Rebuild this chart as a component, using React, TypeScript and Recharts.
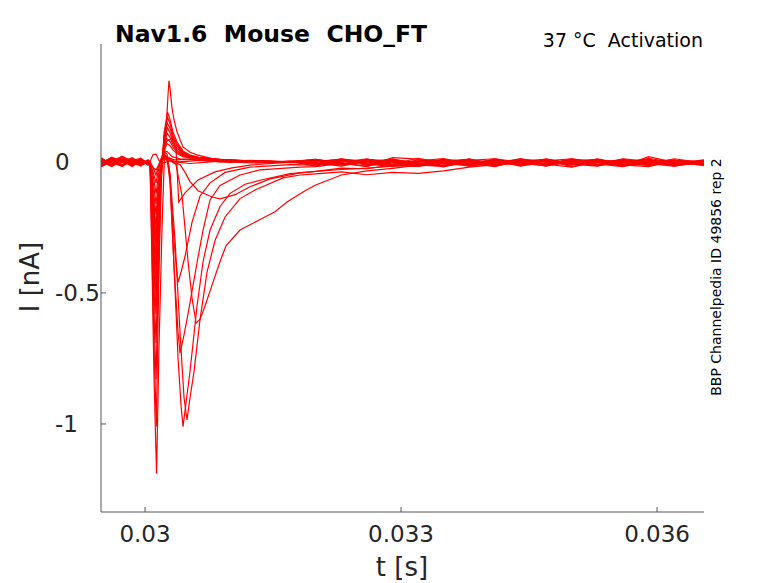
import React from 'react';
import { LineChart, Line, XAxis, YAxis } from 'recharts';

// time grids (s) shared by the quiet pre-step and late tail parts of every sweep
const preT = [0.029484, 0.02961, 0.02973, 0.02985, 0.02995, 0.030035];
const tailT = [0.032, 0.0323, 0.0326, 0.0329, 0.0332, 0.0335, 0.0338, 0.0341, 0.0344, 0.0347, 0.035, 0.0353, 0.0356, 0.0359, 0.0362, 0.03655];

const xTicks = [0.03, 0.033, 0.036];
const yTicks = [-1, -0.5, 0];

// sweeps: pre (nA on preT), act ([t s, I nA]), tail (nA on tailT)
const z1Pre = [-0.008, 0.012, -0.004, 0.006, -0.01, -0.004];
const z1Act = [[0.030059, 0.002], [0.030094, 0.028], [0.030129, 0.03], [0.030164, 0.005], [0.030211, -0.004], [0.030293, 0.004], [0.03041, 0.0], [0.030645, 0.006], [0.030996, -0.002], [0.031348, 0.004], [0.031699, -0.003]];
const z1Tail = [0.006, -0.012, 0.008, -0.004, -0.016, 0.004, -0.009, 0.01, -0.006, -0.014, 0.002, -0.011, 0.009, -0.004, -0.013, -0.002];

const z2Pre = [0.004, -0.012, 0.008, -0.016, 0.002, -0.008];
const z2Act = [[0.030059, -0.003], [0.030094, -0.022], [0.030129, -0.03], [0.030164, -0.01], [0.030199, 0.02], [0.030234, 0.025], [0.03027, 0.01], [0.030352, 0.0], [0.030527, -0.006], [0.030879, 0.003], [0.03123, -0.004], [0.031699, 0.002]];
const z2Tail = [-0.016, 0.004, -0.01, 0.011, -0.006, -0.019, 0.006, -0.004, 0.012, -0.009, -0.02, 0.004, -0.012, 0.006, -0.009, 0.004];

const z3Pre = [-0.016, 0.004, 0.02, -0.006, 0.008, -0.012];
const z3Act = [[0.030059, 0.0], [0.030105, -0.03], [0.030129, -0.05], [0.030164, -0.01], [0.030211, 0.03], [0.030258, 0.02], [0.03034, 0.008], [0.030527, 0.01], [0.030879, 0.0], [0.03123, 0.006], [0.031699, -0.002]];
const z3Tail = [0.01, -0.004, -0.018, 0.016, 0.011, -0.008, 0.002, -0.016, 0.004, 0.01, -0.006, -0.014, 0.0, 0.011, -0.01, -0.006];

const z4Pre = [0.002, -0.018, 0.006, 0.012, -0.014, 0.0];
const z4Act = [[0.030059, -0.004], [0.030105, -0.05], [0.030129, -0.08], [0.030164, -0.02], [0.030211, 0.035], [0.030258, 0.04], [0.030316, 0.02], [0.03041, 0.012], [0.030645, 0.008], [0.030996, 0.003], [0.031465, -0.003], [0.031816, 0.002]];
const z4Tail = [-0.008, 0.011, 0.002, -0.015, 0.004, 0.013, -0.01, 0.006, -0.013, 0.004, 0.012, -0.008, -0.018, 0.002, 0.008, -0.012];

const sPre = [-0.012, 0.008, -0.01, 0.004, 0.014, -0.006];
const sAct = [[0.030059, 0.0], [0.030105, -0.07], [0.030129, -0.12], [0.030164, -0.04], [0.030211, 0.025], [0.030258, 0.02], [0.030352, -0.005], [0.03041, -0.01], [0.030469, -0.04], [0.030527, -0.075], [0.030621, -0.11], [0.030785, -0.134], [0.030879, -0.141], [0.031055, -0.125], [0.03123, -0.095], [0.031465, -0.065], [0.031816, -0.042]];
const sTail = [-0.036, -0.029, -0.024, -0.016, -0.014, -0.006, -0.011, -0.002, -0.012, 0.004, -0.008, 0.006, -0.014, -0.002, 0.004, -0.009];

const m6Pre = [0.008, -0.006, 0.016, -0.012, -0.004, 0.006];
const m6Act = [[0.030059, 0.0], [0.030105, -0.1], [0.030129, -0.16], [0.030164, -0.06], [0.030211, 0.02], [0.03027, 0.01], [0.030363, -0.01], [0.030434, -0.13], [0.030504, -0.38], [0.030551, -0.52], [0.030598, -0.615], [0.030645, -0.6], [0.030703, -0.55], [0.030785, -0.47], [0.030879, -0.38], [0.030949, -0.32], [0.031113, -0.26], [0.031348, -0.22], [0.031523, -0.19], [0.031664, -0.153], [0.031875, -0.11]];
const m6Tail = [-0.088, -0.05, -0.034, -0.025, -0.012, -0.016, -0.004, 0.003, -0.012, 0.005, -0.009, -0.016, 0.006, -0.01, 0.001, -0.014];

const m5Pre = [-0.004, 0.016, -0.014, 0.002, -0.008, 0.004];
const m5Act = [[0.030059, 0.0], [0.030105, -0.13], [0.030129, -0.2], [0.030164, -0.07], [0.030211, 0.02], [0.03027, 0.0], [0.030293, -0.05], [0.030352, -0.3], [0.03041, -0.65], [0.030457, -0.9], [0.030492, -0.985], [0.030527, -0.9], [0.030574, -0.8], [0.030645, -0.6], [0.030727, -0.42], [0.03082, -0.3], [0.030938, -0.21], [0.031113, -0.14], [0.031289, -0.107], [0.031617, -0.061], [0.031816, -0.05]];
const m5Tail = [-0.046, -0.038, -0.049, -0.04, -0.044, -0.034, -0.02, -0.01, 0.004, -0.009, 0.008, -0.012, -0.004, 0.01, -0.016, 0.0];

const m4Pre = [0.012, -0.01, 0.004, -0.018, 0.01, -0.002];
const m4Act = [[0.030059, 0.0], [0.030105, -0.16], [0.030129, -0.25], [0.030164, -0.09], [0.030211, 0.02], [0.030258, 0.01], [0.030293, -0.06], [0.03034, -0.4], [0.030387, -0.75], [0.030422, -0.93], [0.030445, -1.01], [0.03048, -0.92], [0.030527, -0.8], [0.030609, -0.55], [0.03068, -0.38], [0.030762, -0.26], [0.030879, -0.17], [0.030996, -0.12], [0.031172, -0.085], [0.031348, -0.07], [0.031699, -0.045]];
const m4Tail = [-0.036, -0.024, -0.026, -0.012, -0.017, -0.004, -0.016, 0.002, -0.012, 0.006, -0.007, 0.003, -0.011, -0.018, 0.004, -0.006];

const m3Pre = [-0.018, 0.0, 0.01, -0.008, 0.004, -0.01];
const m3Act = [[0.030059, 0.0], [0.030105, -0.19], [0.030129, -0.29], [0.030164, -0.1], [0.030211, 0.03], [0.030258, 0.02], [0.030293, -0.08], [0.03034, -0.4], [0.030387, -0.65], [0.03041, -0.73], [0.030457, -0.66], [0.030504, -0.58], [0.030609, -0.385], [0.03068, -0.26], [0.030762, -0.145], [0.030879, -0.09], [0.031113, -0.05], [0.031348, -0.03], [0.031816, -0.02]];
const m3Tail = [-0.018, -0.006, -0.016, 0.0, -0.014, 0.004, -0.009, 0.008, -0.014, -0.004, 0.007, -0.012, 0.002, -0.007, -0.016, 0.004];

const m2Pre = [0.006, -0.014, -0.002, 0.016, -0.006, 0.002];
const m2Act = [[0.030059, 0.0], [0.030105, -0.22], [0.030129, -0.33], [0.030164, -0.12], [0.030211, 0.04], [0.030258, 0.03], [0.030293, -0.05], [0.030316, -0.19], [0.030352, -0.35], [0.030387, -0.46], [0.030422, -0.42], [0.030469, -0.36], [0.030551, -0.23], [0.030645, -0.13], [0.030762, -0.08], [0.030938, -0.04], [0.03123, -0.02], [0.031699, -0.01]];
const m2Tail = [-0.012, 0.005, -0.008, -0.018, 0.002, -0.006, 0.012, -0.01, 0.0, -0.016, 0.004, 0.01, -0.007, -0.012, 0.006, -0.004];

const m1Pre = [-0.006, 0.018, 0.002, -0.012, 0.008, -0.008];
const m1Act = [[0.030059, 0.0], [0.030105, -0.25], [0.030129, -0.37], [0.030164, -0.13], [0.030211, 0.05], [0.030258, 0.08], [0.030316, 0.09], [0.030363, 0.05], [0.030395, -0.153], [0.030469, -0.118], [0.030621, -0.069], [0.03082, -0.038], [0.03102, -0.023], [0.031254, -0.011], [0.031582, -0.004]];
const m1Tail = [0.004, -0.011, 0.009, 0.0, -0.014, 0.006, -0.005, -0.018, 0.008, 0.002, -0.01, 0.012, -0.008, 0.0, -0.006, 0.008];

const f1Pre = [0.01, -0.004, -0.016, 0.008, -0.002, 0.004];
const f1Act = [[0.030059, 0.0], [0.030082, -0.15], [0.030105, -0.3], [0.030129, -0.42], [0.030158, -0.2], [0.030188, -0.03], [0.030223, 0.045], [0.030258, 0.07], [0.030293, 0.062], [0.030328, 0.045], [0.030375, 0.032], [0.030445, 0.02], [0.030527, 0.014], [0.030645, 0.01], [0.030879, 0.006], [0.031172, 0.002], [0.031465, 0.004], [0.031758, -0.002]];
const f1Tail = [-0.006, 0.008, -0.012, 0.004, -0.002, 0.01, -0.016, -0.004, 0.006, -0.01, 0.0, -0.014, 0.01, -0.004, 0.006, -0.01];

const f2Pre = [-0.014, 0.006, 0.012, -0.01, 0.0, -0.006];
const f2Act = [[0.030059, 0.0], [0.030082, -0.17], [0.030105, -0.33], [0.030129, -0.47], [0.030158, -0.23], [0.030188, -0.04], [0.030223, 0.055], [0.030252, 0.09], [0.030293, 0.078], [0.030328, 0.056], [0.030375, 0.038], [0.030445, 0.024], [0.030527, 0.016], [0.030645, 0.012], [0.030879, 0.007], [0.031172, 0.003], [0.031465, -0.002], [0.031758, 0.003]];
const f2Tail = [0.008, -0.002, 0.012, -0.012, -0.006, 0.004, 0.01, -0.012, -0.004, 0.008, -0.018, -0.002, 0.004, -0.01, 0.012, -0.004];

const f3Pre = [0.0, -0.008, 0.022, 0.002, -0.012, 0.006];
const f3Act = [[0.030059, 0.0], [0.030082, -0.18], [0.030105, -0.36], [0.030129, -0.52], [0.030158, -0.26], [0.030188, -0.04], [0.030223, 0.066], [0.030258, 0.11], [0.030293, 0.094], [0.030328, 0.066], [0.030375, 0.044], [0.030445, 0.027], [0.030527, 0.018], [0.030645, 0.013], [0.030879, 0.008], [0.031172, 0.004], [0.031465, 0.001], [0.031758, -0.003]];
const f3Tail = [-0.004, -0.016, 0.002, 0.01, -0.008, -0.014, 0.004, 0.002, -0.01, 0.012, -0.006, -0.002, -0.016, 0.02, -0.002, 0.002];

const f4Pre = [0.006, 0.002, -0.012, 0.014, -0.008, -0.002];
const f4Act = [[0.030059, 0.0], [0.030082, -0.2], [0.030105, -0.41], [0.030129, -0.58], [0.030158, -0.29], [0.030188, -0.05], [0.030223, 0.078], [0.030264, 0.13], [0.030293, 0.11], [0.030328, 0.078], [0.030375, 0.052], [0.030445, 0.03], [0.030527, 0.02], [0.030645, 0.014], [0.030879, 0.009], [0.031172, 0.003], [0.031465, 0.002], [0.031758, 0.0]];
const f4Tail = [0.002, 0.01, -0.006, -0.012, 0.008, 0.0, -0.012, 0.012, -0.002, -0.008, 0.01, -0.004, 0.006, -0.014, 0.002, -0.008];

const f5Pre = [-0.01, 0.014, 0.0, -0.004, 0.012, -0.012];
const f5Act = [[0.030059, 0.0], [0.030082, -0.24], [0.030105, -0.48], [0.030129, -0.69], [0.030158, -0.35], [0.030188, -0.06], [0.030223, 0.09], [0.030258, 0.15], [0.030293, 0.128], [0.030328, 0.09], [0.030375, 0.06], [0.030445, 0.034], [0.030527, 0.022], [0.030645, 0.015], [0.030879, 0.008], [0.031172, 0.005], [0.031465, -0.001], [0.031758, 0.002]];
const f5Tail = [-0.01, 0.006, 0.004, -0.008, 0.014, -0.004, 0.008, -0.008, 0.012, -0.002, -0.012, 0.008, -0.002, 0.004, -0.012, 0.006];

const f6Pre = [0.016, -0.008, 0.006, -0.002, -0.016, 0.008];
const f6Act = [[0.030059, 0.0], [0.030082, -0.29], [0.030105, -0.58], [0.030129, -0.83], [0.030158, -0.42], [0.030188, -0.07], [0.030223, 0.1], [0.030264, 0.17], [0.030293, 0.145], [0.030328, 0.1], [0.030375, 0.068], [0.030445, 0.038], [0.030527, 0.024], [0.030645, 0.016], [0.030879, 0.01], [0.031172, 0.004], [0.031465, 0.002], [0.031758, -0.002]];
const f6Tail = [0.006, -0.008, 0.01, 0.002, -0.01, 0.008, -0.002, 0.006, -0.016, 0.004, 0.0, 0.006, -0.012, 0.014, -0.004, -0.01];

const f7Pre = [-0.002, 0.01, -0.018, 0.008, 0.004, -0.004];
const f7Act = [[0.030059, 0.0], [0.030082, -0.35], [0.030105, -0.7], [0.030132, -1.01], [0.030158, -0.5], [0.030188, -0.09], [0.030223, 0.11], [0.030264, 0.19], [0.030293, 0.162], [0.030328, 0.113], [0.030375, 0.076], [0.030445, 0.042], [0.030527, 0.026], [0.030645, 0.017], [0.030879, 0.01], [0.031172, 0.005], [0.031465, 0.0], [0.031758, 0.003]];
const f7Tail = [-0.002, 0.012, -0.004, 0.006, -0.012, 0.01, 0.0, -0.006, 0.008, -0.012, 0.012, 0.0, 0.008, -0.008, 0.004, 0.002];

const f8Pre = [0.004, -0.016, 0.008, 0.01, -0.004, 0.002];
const f8Act = [[0.030059, 0.0], [0.030082, -0.4], [0.030105, -0.82], [0.030135, -1.19], [0.030164, -0.7], [0.030199, -0.25], [0.030223, -0.02], [0.030246, 0.12], [0.03027, 0.26], [0.030281, 0.31], [0.030293, 0.28], [0.030316, 0.206], [0.03034, 0.16], [0.030375, 0.115], [0.03041, 0.085], [0.030445, 0.057], [0.030527, 0.037], [0.030609, 0.027], [0.030844, 0.008], [0.031172, 0.004], [0.031465, 0.0], [0.031758, 0.003]];
const f8Tail = [0.01, -0.006, 0.0, 0.008, -0.004, -0.012, 0.006, 0.012, -0.008, 0.006, -0.002, -0.01, 0.012, 0.002, -0.008, 0.004];

const sweeps = [
  [z1Pre, z1Act, z1Tail], [z2Pre, z2Act, z2Tail], [z3Pre, z3Act, z3Tail], [z4Pre, z4Act, z4Tail],
  [sPre, sAct, sTail], [m6Pre, m6Act, m6Tail], [m5Pre, m5Act, m5Tail], [m4Pre, m4Act, m4Tail],
  [m3Pre, m3Act, m3Tail], [m2Pre, m2Act, m2Tail], [m1Pre, m1Act, m1Tail],
  [f1Pre, f1Act, f1Tail], [f2Pre, f2Act, f2Tail], [f3Pre, f3Act, f3Tail], [f4Pre, f4Act, f4Tail],
  [f5Pre, f5Act, f5Tail], [f6Pre, f6Act, f6Tail], [f7Pre, f7Act, f7Tail], [f8Pre, f8Act, f8Tail],
] as const;

function build(pre: readonly number[], act: readonly (readonly number[])[], tail: readonly number[]) {
  return [
    ...preT.map((t, k) => ({ t, i: pre[k] })),
    ...act.map((p) => ({ t: p[0], i: p[1] })),
    ...tailT.map((t, k) => ({ t, i: tail[k] })),
  ];
}

const FONT = 'DejaVu Sans, Verdana, sans-serif';
const AXIS = '#555555';
const PLOT_LEFT = 101;
const PLOT_BOTTOM = 512;

const XTick = (props: any) => {
  const { x, payload } = props;
  return (
    <g>
      <line x1={x} x2={x} y1={PLOT_BOTTOM} y2={PLOT_BOTTOM - 5} stroke={AXIS} strokeWidth={1} />
      <text x={x} y={542} textAnchor="middle" fontSize={23} fontFamily={FONT} fill="#262626">
        {String(payload.value)}
      </text>
    </g>
  );
};

const YTick = (props: any) => {
  const { y, payload } = props;
  return (
    <g>
      <line x1={PLOT_LEFT} x2={PLOT_LEFT + 5} y1={y} y2={y} stroke={AXIS} strokeWidth={1} />
      <text x={55} y={y + 8.5} textAnchor="start" fontSize={23} fontFamily={FONT} fill="#262626">
        {String(payload.value)}
      </text>
    </g>
  );
};

export default function App() {
  const series = sweeps.map(([p, a, t]) => build(p, a as any, t));
  return (
    <div style={{ position: 'absolute', left: 0, top: 0, width: 778, height: 583, background: '#fff' }}>
      <LineChart width={778} height={583} margin={{ top: 44, right: 74, bottom: 31, left: 41 }}>
        <XAxis
          dataKey="t"
          type="number"
          domain={[0.029484, 0.03655]}
          ticks={xTicks}
          allowDataOverflow
          tick={<XTick />}
          tickLine={false}
          tickSize={0}
          tickMargin={0}
          height={40}
          axisLine={{ stroke: AXIS, strokeWidth: 1 }}
        />
        <YAxis
          type="number"
          domain={[-1.336, 0.45]}
          ticks={yTicks}
          allowDataOverflow
          tick={<YTick />}
          tickLine={false}
          tickSize={0}
          tickMargin={0}
          width={60}
          axisLine={{ stroke: AXIS, strokeWidth: 1 }}
        />
        {series.map((d, k) => (
          <Line
            key={k}
            data={d}
            dataKey="i"
            type="linear"
            dot={false}
            stroke="#ff0000"
            strokeWidth={1.2}
            isAnimationActive={false}
          />
        ))}
      </LineChart>
      <svg width={778} height={583} style={{ position: 'absolute', left: 0, top: 0, pointerEvents: 'none' }}>
        <text x={115} y={42} fontSize={23.5} fontWeight="bold" fontFamily={FONT} fill="#000" style={{ whiteSpace: 'pre' }}>
          {'Nav1.6  Mouse  CHO_FT'}
        </text>
        <text x={703} y={47} textAnchor="end" fontSize={19} fontFamily={FONT} fill="#000" style={{ whiteSpace: 'pre' }}>
          {'37 °C  Activation'}
        </text>
        <text x={402} y={576} textAnchor="middle" fontSize={26} fontFamily={FONT} fill="#262626">
          t [s]
        </text>
        <text transform="translate(39,277) rotate(-90)" textAnchor="middle" fontSize={26} fontFamily={FONT} fill="#262626">
          I [nA]
        </text>
        <text transform="translate(721,277) rotate(-90)" textAnchor="middle" fontSize={14} fontFamily={FONT} fill="#000">
          BBP Channelpedia ID 49856 rep 2
        </text>
      </svg>
    </div>
  );
}
